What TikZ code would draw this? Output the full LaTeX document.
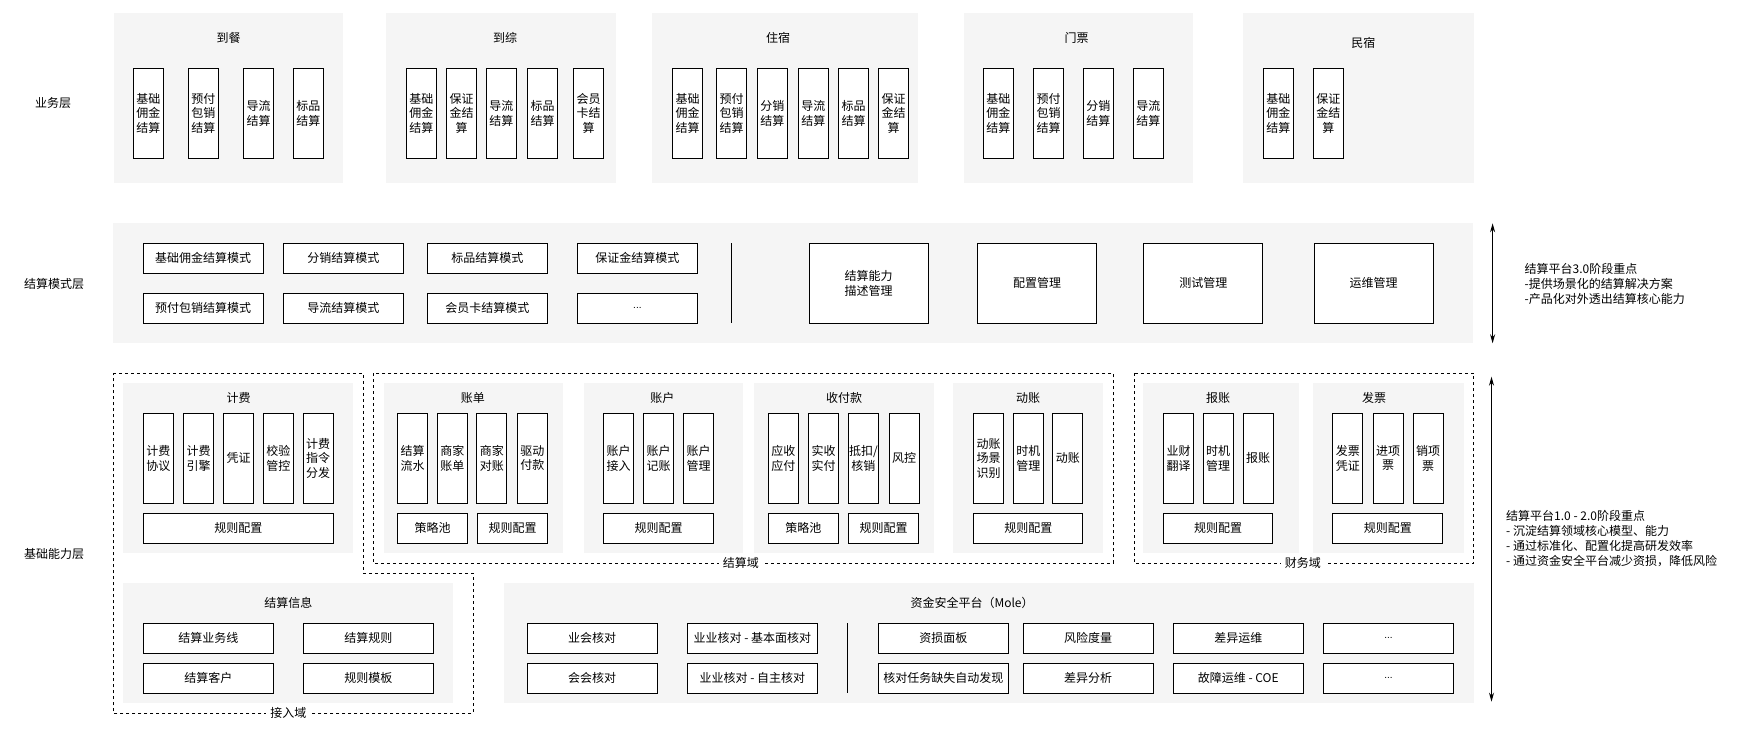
\documentclass[tikz,border=0pt]{standalone}
\usepackage{fontspec}
\setmainfont{Noto Sans CJK SC}
\newfontfamily\latinf{Liberation Sans}
\usetikzlibrary{arrows.meta}
\definecolor{panelgray}{HTML}{F5F5F5}
\tikzset{
  panel/.style={fill=panelgray, draw=none},
  base/.style={font=\fontsize{12}{14.5}\selectfont, align=center, inner sep=0pt},
  vb/.style={base, draw=black, line width=1pt, fill=white, minimum width=30pt, minimum height=90pt},
  hb/.style={base, draw=black, line width=1pt, fill=white, minimum height=30pt},
  bigb/.style={base, draw=black, line width=1pt, fill=white, minimum width=119pt, minimum height=80pt},
  lbl/.style={base},
  dom/.style={draw=black, line width=1pt, dash pattern=on 3pt off 3pt},
  domlbl/.style={base, fill=white, inner xsep=4pt, inner ysep=1pt},
  arr/.style={line width=1pt, {Stealth[length=9pt,width=5pt]}-{Stealth[length=9pt,width=5pt]}},
  note/.style={font=\fontsize{12}{14.5}\selectfont, align=left, inner sep=0pt, anchor=west},
}
\newcommand{\dotsx}{{\latinf\fontsize{10}{12}\selectfont ...}}
\begin{document}
\begin{tikzpicture}[x=1pt,y=-1pt]
\useasboundingbox (0,0) rectangle (1740,730);

% ===== 业务层 =====
\node[lbl] (L1) at (53,103) {业务层};
\fill[panel] (113.5,13.3) rectangle (343.3,183.3);
\fill[panel] (386.3,13.3) rectangle (616.1,183.3);
\fill[panel] (652.4,13.3) rectangle (918.4,183.3);
\fill[panel] (963.6,13.3) rectangle (1193.3,183.3);
\fill[panel] (1243.3,13.3) rectangle (1473.6,183.3);
\node[lbl] (T1) at (228.5,38.3) {到餐};
\node[lbl] (T2) at (505,38.3) {到综};
\node[lbl] (T3) at (778,38.3) {住宿};
\node[lbl] (T4) at (1076.5,38.3) {门票};
\node[lbl] (T5) at (1363.3,43.3) {民宿};

\node[vb] (a1) at (148.3,113.3) {基础\\佣金\\结算};
\node[vb] (a2) at (203.3,113.3) {预付\\包销\\结算};
\node[vb] (a3) at (258.6,113.3) {导流\\结算};
\node[vb] (a4) at (308.4,113.3) {标品\\结算};

\node[vb] (b1) at (421.3,113.3) {基础\\佣金\\结算};
\node[vb] (b2) at (461.5,113.3) {保证\\金结\\算};
\node[vb] (b3) at (501.4,113.3) {导流\\结算};
\node[vb] (b4) at (542.5,113.3) {标品\\结算};
\node[vb] (b5) at (588.6,113.3) {会员\\卡结\\算};

\node[vb] (c1) at (687.5,113.3) {基础\\佣金\\结算};
\node[vb] (c2) at (731.5,113.3) {预付\\包销\\结算};
\node[vb] (c3) at (772.4,113.3) {分销\\结算};
\node[vb] (c4) at (813.4,113.3) {导流\\结算};
\node[vb] (c5) at (853.6,113.3) {标品\\结算};
\node[vb] (c6) at (893.7,113.3) {保证\\金结\\算};

\node[vb] (d1) at (998.4,113.3) {基础\\佣金\\结算};
\node[vb] (d2) at (1048.5,113.3) {预付\\包销\\结算};
\node[vb] (d3) at (1098.3,113.3) {分销\\结算};
\node[vb] (d4) at (1148.4,113.3) {导流\\结算};

\node[vb] (e1) at (1278.3,113.3) {基础\\佣金\\结算};
\node[vb] (e2) at (1328.4,113.3) {保证\\金结\\算};

% ===== 结算模式层 =====
\node[lbl] (L2) at (54,284.3) {结算模式层};
\fill[panel] (113.3,223.3) rectangle (1473.4,343.3);
\node[hb, minimum width=120pt] (m1) at (203.2,258.3) {基础佣金结算模式};
\node[hb, minimum width=120pt] (m2) at (343.4,258.3) {分销结算模式};
\node[hb, minimum width=120pt] (m3) at (487.3,258.3) {标品结算模式};
\node[hb, minimum width=120pt] (m4) at (637.4,258.3) {保证金结算模式};
\node[hb, minimum width=120pt] (m5) at (203.2,308) {预付包销结算模式};
\node[hb, minimum width=120pt] (m6) at (343.4,308) {导流结算模式};
\node[hb, minimum width=120pt] (m7) at (487.3,308) {会员卡结算模式};
\node[hb, minimum width=120pt] (m8) at (637.4,308) {\dotsx};
\coordinate (dv1t) at (731.5,243.3);
\coordinate (dv1b) at (731.5,323.3);
\draw[line width=1pt] (dv1t) -- (dv1b);
\node[bigb] (g1) at (868.5,283.3) {结算能力\\描述管理};
\node[bigb] (g2) at (1037.2,283.3) {配置管理};
\node[bigb] (g3) at (1203.4,283.3) {测试管理};
\node[bigb] (g4) at (1373.6,283.3) {运维管理};
\coordinate (ar1t) at (1492.6,223.3);
\coordinate (ar1b) at (1492.6,343.3);
\draw[arr] (ar1t) -- (ar1b);
\node[note, font=\fontsize{12}{15}\selectfont] (n1) at (1524.4,284) {结算平台3.0阶段重点\\-提供场景化的结算解决方案\\-产品化对外透出结算核心能力};

% ===== 基础能力层 =====
\node[lbl] (L3) at (54,554) {基础能力层};
\draw[dom] (113.3,373.3) -- (363.7,373.3) -- (363.7,573.3) -- (473.3,573.3) -- (473.3,713.3) -- (113.3,713.3) -- cycle;
\draw[dom] (373.4,373.3) rectangle (1113.4,563.3);
\draw[dom] (1134,373.3) rectangle (1473.9,563.3);

% 计费
\fill[panel] (123.2,383.3) rectangle (353.3,553.3);
\node[lbl] (J0) at (238.5,398.3) {计费};
\node[vb] (j1) at (158.3,458.3) {计费\\协议};
\node[vb] (j2) at (198.5,458.3) {计费\\引擎};
\node[vb] (j3) at (238.5,458.3) {凭证};
\node[vb] (j4) at (278.4,458.3) {校验\\管控};
\node[vb] (j5) at (318.2,458.3) {计费\\指令\\分发};
\node[hb, minimum width=190pt] (j6) at (238.3,528.3) {规则配置};

% 账单
\fill[panel] (383.7,383.3) rectangle (562.8,553.3);
\node[lbl] (Z0) at (472.9,398.3) {账单};
\node[vb] (z1) at (412.6,458.3) {结算\\流水};
\node[vb] (z2) at (452.4,458.3) {商家\\账单};
\node[vb] (z3) at (491.9,458.3) {商家\\对账};
\node[vb] (z4) at (532.4,458.3) {驱动\\付款};
\node[hb, minimum width=70pt] (z5) at (432.5,528.3) {策略池};
\node[hb, minimum width=70pt] (z6) at (512.5,528.3) {规则配置};

% 账户
\fill[panel] (583.9,383.3) rectangle (742.7,553.3);
\node[lbl] (H0) at (662.3,398.3) {账户};
\node[vb] (h1) at (618.5,458.3) {账户\\接入};
\node[vb] (h2) at (658.7,458.3) {账户\\记账};
\node[vb] (h3) at (698.5,458.3) {账户\\管理};
\node[hb, minimum width=110pt] (h4) at (658.5,528.3) {规则配置};

% 收付款
\fill[panel] (754.2,383.3) rectangle (934,553.3);
\node[lbl] (S0) at (844.1,398.3) {收付款};
\node[vb] (s1) at (783.4,458.3) {应收\\应付};
\node[vb] (s2) at (823.6,458.3) {实收\\实付};
\node[vb] (s3) at (863.4,458.3) {抵扣/\\核销};
\node[vb] (s4) at (904,458.3) {风控};
\node[hb, minimum width=70pt] (s5) at (803.4,528.3) {策略池};
\node[hb, minimum width=70pt] (s6) at (883.7,528.3) {规则配置};

% 动账
\fill[panel] (953.2,383.3) rectangle (1103,553.3);
\node[lbl] (D0) at (1028.1,398.3) {动账};
\node[vb] (k1) at (988.6,458.3) {动账\\场景\\识别};
\node[vb] (k2) at (1028.4,458.3) {时机\\管理};
\node[vb] (k3) at (1067.9,458.3) {动账};
\node[hb, minimum width=109pt] (k4) at (1028.4,528.3) {规则配置};

% 报账
\fill[panel] (1143.3,383.3) rectangle (1299.3,553.3);
\node[lbl] (B0) at (1218.2,398.3) {报账};
\node[vb] (r1) at (1178.5,458.3) {业财\\翻译};
\node[vb] (r2) at (1218.2,458.3) {时机\\管理};
\node[vb] (r3) at (1258,458.3) {报账};
\node[hb, minimum width=109.5pt] (r4) at (1218.2,528.3) {规则配置};

% 发票
\fill[panel] (1313.3,383.3) rectangle (1463.6,553.3);
\node[lbl] (F0) at (1374,398.3) {发票};
\node[vb] (f1) at (1347.9,458.3) {发票\\凭证};
\node[vb] (f2) at (1388.2,458.3) {进项\\票};
\node[vb] (f3) at (1428,458.3) {销项\\票};
\node[hb, minimum width=110pt] (f4) at (1387.9,528.3) {规则配置};

\node[domlbl] (dl1) at (740.8,563.3) {结算域};
\node[domlbl] (dl2) at (1302.9,563.3) {财务域};

% 结算信息
\fill[panel] (123.3,583.3) rectangle (453.3,703.3);
\node[lbl] (X0) at (288.3,602.7) {结算信息};
\node[hb, minimum width=130pt] (x1) at (208.3,638.3) {结算业务线};
\node[hb, minimum width=130pt] (x2) at (368.3,638.3) {结算规则};
\node[hb, minimum width=130pt] (x3) at (208.3,678.3) {结算客户};
\node[hb, minimum width=130pt] (x4) at (368.3,678.3) {规则模板};
\node[domlbl] (dl3) at (288.3,713.3) {接入域};

% 资金安全平台
\fill[panel] (503.8,583.3) rectangle (1473.8,703.3);
\node[lbl] (Q0) at (972.1,603.3) {资金安全平台（Mole）};
\node[hb, minimum width=130pt] (q1) at (592,638.3) {业会核对};
\node[hb, minimum width=130pt] (q2) at (752.4,638.3) {业业核对 - 基本面核对};
\node[hb, minimum width=130pt] (q3) at (943.4,638.3) {资损面板};
\node[hb, minimum width=130pt] (q4) at (1088,638.3) {风险度量};
\node[hb, minimum width=130pt] (q5) at (1238.3,638.3) {差异运维};
\node[hb, minimum width=130pt] (q6) at (1388.5,638.3) {\dotsx};
\node[hb, minimum width=130pt] (q7) at (592,678.3) {会会核对};
\node[hb, minimum width=130pt] (q8) at (752.4,678.3) {业业核对 - 自主核对};
\node[hb, minimum width=130pt] (q9) at (943.4,678.3) {核对任务缺失自动发现};
\node[hb, minimum width=130pt] (q10) at (1088,678.3) {差异分析};
\node[hb, minimum width=130pt] (q11) at (1238.3,678.3) {故障运维 - COE};
\node[hb, minimum width=130pt] (q12) at (1388.5,678.3) {\dotsx};
\coordinate (dv2t) at (847.2,623.3);
\coordinate (dv2b) at (847.2,693.3);
\draw[line width=1pt] (dv2t) -- (dv2b);

\coordinate (ar2t) at (1491.5,376.7);
\coordinate (ar2b) at (1491.5,701.7);
\draw[arr] (ar2t) -- (ar2b);
\node[note, font=\fontsize{12}{15}\selectfont] (n2) at (1506,539) {结算平台1.0 - 2.0阶段重点\\- 沉淀结算领域核心模型、能力\\- 通过标准化、配置化提高研发效率\\- 通过资金安全平台减少资损，降低风险};
\end{tikzpicture}
\end{document}
